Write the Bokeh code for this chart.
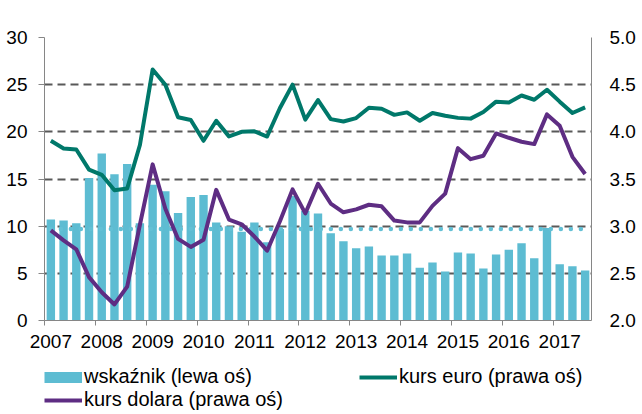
from bokeh.plotting import figure
from bokeh.layouts import column
from bokeh.models import (Range1d, LinearAxis, FixedTicker, Legend, LegendItem,
                          PrintfTickFormatter)
from bokeh.embed import file_html
from bokeh.resources import INLINE

# ---------------- data ----------------
years = ["2007", "2008", "2009", "2010", "2011", "2012",
         "2013", "2014", "2015", "2016", "2017"]
quarters_per_year = 4

# wskaźnik (lewa oś) - quarterly, 2007Q1 .. 2017Q3
wskaznik = [10.7, 10.6, 10.3, 15.1, 17.7, 15.5, 16.6, 10.3, 14.4, 13.7,
            11.4, 13.1, 13.3, 10.4, 10.0, 9.4, 10.4, 8.3, 9.7, 13.2,
            11.6, 11.35, 9.25, 8.4, 7.65, 7.85, 6.9, 6.9, 7.1, 5.6,
            6.15, 5.2, 7.2, 7.1, 5.5, 7.0, 7.5, 8.2, 6.6, 9.8,
            5.95, 5.75, 5.3]

# kurs euro (prawa oś)
kurs_euro = [3.905, 3.824, 3.813, 3.60, 3.544, 3.381, 3.399, 3.86, 4.66, 4.50,
             4.155, 4.125, 3.905, 4.117, 3.952, 4.0, 4.005, 3.95, 4.25, 4.50,
             4.13, 4.337, 4.135, 4.11, 4.146, 4.255, 4.245, 4.18, 4.206, 4.118,
             4.2, 4.17, 4.148, 4.14, 4.21, 4.32, 4.31, 4.385, 4.34, 4.446,
             4.32, 4.2, 4.259]

# kurs dolara (prawa oś)
kurs_dolara = [2.956, 2.85, 2.755, 2.46, 2.30, 2.17, 2.36, 3.015, 3.655, 3.185,
               2.865, 2.78, 2.857, 3.385, 3.07, 3.02, 2.89, 2.74, 3.05, 3.39,
               3.135, 3.45, 3.24, 3.147, 3.178, 3.227, 3.21, 3.059, 3.04, 3.04,
               3.215, 3.345, 3.827, 3.71, 3.747, 3.983, 3.937, 3.895, 3.87, 4.185,
               4.065, 3.735, 3.553]

# dotted reference level (left axis)
poziom_sredni = 9.7

left_ticks = [0, 5, 10, 15, 20, 25, 30]
right_ticks = [2.0, 2.5, 3.0, 3.5, 4.0, 4.5, 5.0]

legend_labels = ["wskaźnik (lewa oś)", "kurs euro (prawa oś)", "kurs dolara (prawa oś)"]

# ---------------- style ----------------
FONT = "Liberation Sans"
BAR = "#5DBCD2"
DOT = "#63C0D5"
EURO = "#00786A"
USD = "#5E2D83"
AXIS = "#868686"
GRID = "#595959"

n = len(wskaznik)
idx = list(range(n))

p = figure(width=642, height=356,
           x_range=Range1d(-0.5, n - 0.5), y_range=Range1d(left_ticks[0], left_ticks[-1]),
           output_backend="svg", toolbar_location=None,
           min_border_left=44, min_border_right=51, min_border_top=37, min_border_bottom=36)
p.extra_y_ranges = {"right": Range1d(right_ticks[0], right_ticks[-1])}
p.outline_line_color = None

# grid
p.xgrid.visible = False
p.ygrid.ticker = FixedTicker(ticks=left_ticks[1:])
p.ygrid.grid_line_color = GRID
p.ygrid.grid_line_width = 2
p.ygrid.grid_line_dash = "8 5"

# left axis
ya = p.yaxis[0]
ya.ticker = FixedTicker(ticks=left_ticks)
ya.axis_line_color = AXIS
ya.major_tick_line_color = AXIS
ya.major_tick_out = 6
ya.major_tick_in = 0
ya.minor_tick_line_color = None
ya.major_label_text_font = FONT
ya.major_label_text_font_size = "19px"
ya.major_label_text_color = "black"
ya.major_label_standoff = 11

# right axis
ra = LinearAxis(y_range_name="right", ticker=FixedTicker(ticks=right_ticks),
                formatter=PrintfTickFormatter(format="%.1f"))
ra.axis_line_color = AXIS
ra.major_tick_line_color = None
ra.major_tick_out = 0
ra.major_tick_in = 0
ra.minor_tick_line_color = None
ra.major_label_text_font = FONT
ra.major_label_text_font_size = "19px"
ra.major_label_text_color = "black"
ra.major_label_standoff = 18
p.add_layout(ra, "right")

# bottom axis: labels under first quarter, tick marks between years
xa = p.xaxis[0]
label_pos = [quarters_per_year * i for i in range(len(years))]
xa.ticker = FixedTicker(ticks=label_pos, minor_ticks=[t - 0.5 for t in label_pos])
xa.major_label_overrides = {t: y for t, y in zip(label_pos, years)}
xa.axis_line_color = AXIS
xa.major_tick_line_color = None
xa.major_tick_out = 5
xa.major_tick_in = 0
xa.minor_tick_line_color = AXIS
xa.minor_tick_out = 5
xa.minor_tick_in = 0
xa.major_label_text_font = FONT
xa.major_label_text_font_size = "19px"
xa.major_label_text_color = "black"
xa.major_label_standoff = 9

# glyphs
p.vbar(x=idx, top=wskaznik, width=0.66, fill_color=BAR, line_color=None)
p.line(x=[idx[0], idx[-1]], y=[poziom_sredni, poziom_sredni], line_color=DOT,
       line_width=4.5, line_dash="0 10", line_cap="round")
p.line(x=idx, y=kurs_euro, y_range_name="right", line_color=EURO,
       line_width=4, line_join="round")
p.line(x=idx, y=kurs_dolara, y_range_name="right", line_color=USD,
       line_width=4, line_join="round")

# ---------------- legend strip (below the chart) ----------------
q = figure(width=642, height=58, x_range=Range1d(0, 1), y_range=Range1d(0, 1),
           output_backend="svg", toolbar_location=None,
           min_border_left=0, min_border_right=0, min_border_top=0, min_border_bottom=0)
q.axis.visible = False
q.grid.visible = False
q.outline_line_color = None

# hidden renderers used only as legend swatches
k_bar = q.line(x=idx, y=wskaznik, line_color=BAR, line_width=11, visible=False)
k_euro = q.line(x=idx, y=kurs_euro, line_color=EURO, line_width=4, visible=False)
k_usd = q.line(x=idx, y=kurs_dolara, line_color=USD, line_width=4, visible=False)

legend = Legend(items=[
    LegendItem(label=legend_labels[0], renderers=[k_bar]),
    LegendItem(label=legend_labels[1], renderers=[k_euro]),
    LegendItem(label=legend_labels[2], renderers=[k_usd]),
], location=(0, 3), orientation="horizontal", ncols=2)
legend.padding = 0
legend.margin = 0
legend.spacing = 0
legend.border_line_color = None
legend.background_fill_alpha = 0
legend.inactive_fill_alpha = 0
legend.glyph_width = 38
legend.glyph_height = 20
legend.label_standoff = 2
legend.label_width = 275
legend.label_height = 20
legend.label_text_font = FONT
legend.label_text_font_size = "20px"
legend.label_text_color = "black"
legend.click_policy = "none"
q.add_layout(legend)

layout = column(p, q, spacing=0)
open("out.html", "w").write(file_html(layout, INLINE))
